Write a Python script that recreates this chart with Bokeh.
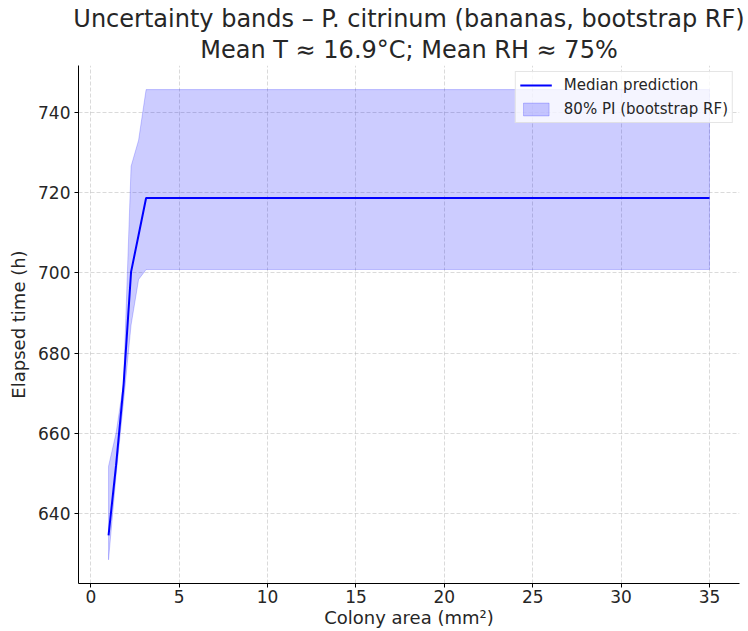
from bokeh.plotting import figure
from bokeh.models import Range1d, Title, Legend, LegendItem, ColumnDataSource
from bokeh.embed import file_html
from bokeh.resources import INLINE

# Colony area grid (mm²) and bootstrap random-forest predictions of elapsed time (h)
area = [1.0, 1.425, 1.85, 2.275, 2.7, 3.125, 35.0]
median = [634.6, 652.0, 672.0, 700.2, 709.4, 718.6, 718.6]
lower = [628.5, 649.5, 668.0, 687.0, 698.3, 700.8, 700.8]
upper = [651.8, 660.0, 672.5, 726.5, 733.0, 745.6, 745.6]

x_ticks = [0, 5, 10, 15, 20, 25, 30, 35]
y_ticks = [640, 660, 680, 700, 720, 740]

FONT = "DejaVu Sans"
TEXT = "#262626"

p = figure(width=748, height=631, output_backend="svg", toolbar_location=None,
           title=None,
           x_range=Range1d(-0.7, 36.7), y_range=Range1d(622.6, 751.6),
           min_border_left=78, min_border_right=9,
           min_border_top=65, min_border_bottom=48)

p.outline_line_color = None
p.background_fill_color = "white"

# two-line title: the later-added Title sits on top
p.add_layout(Title(text="Mean T \u2248 16.9\u00b0C; Mean RH \u2248 75%", align="center",
                   text_font=FONT, text_font_size="24px", text_font_style="normal",
                   text_color=TEXT, standoff=3, offset=0), "above")
p.add_layout(Title(text="Uncertainty bands \u2013 P. citrinum (bananas, bootstrap RF)",
                   align="center", text_font=FONT, text_font_size="24px",
                   text_font_style="normal", text_color=TEXT, standoff=0), "above")

# prediction interval as a closed polygon (upper edge, then lower edge reversed)
band_src = ColumnDataSource(dict(x=area + area[::-1], y=upper + lower[::-1]))
band = p.patch("x", "y", source=band_src, fill_color="#0000ff", fill_alpha=0.2,
               line_color="#0000ff", line_alpha=0.2, line_width=1)

med_src = ColumnDataSource(dict(x=area, y=median))
med = p.line("x", "y", source=med_src, line_color="#0000ff", line_width=2)

for ax in (p.xaxis, p.yaxis):
    ax.major_label_text_font = FONT
    ax.major_label_text_font_size = "17px"
    ax.major_label_text_color = TEXT
    ax.axis_label_text_font = FONT
    ax.axis_label_text_font_size = "18px"
    ax.axis_label_text_font_style = "normal"
    ax.axis_label_text_color = TEXT
    ax.minor_tick_line_color = None
    ax.major_tick_in = 0
    ax.major_tick_out = 4
    ax.axis_line_color = "black"
    ax.major_tick_line_color = "black"

p.xaxis.ticker = x_ticks
p.yaxis.ticker = y_ticks
p.xaxis.axis_label = "Colony area (mm\u00b2)"
p.yaxis.axis_label = "Elapsed time (h)"
p.xaxis.major_label_standoff = 2
p.yaxis.major_label_standoff = 4
p.xaxis.axis_label_standoff = 1
p.yaxis.axis_label_standoff = 6

p.grid.grid_line_color = "#b0b0b0"
p.grid.grid_line_alpha = 0.6
p.grid.grid_line_dash = "4 2"
p.grid.grid_line_width = 0.8

legend = Legend(items=[LegendItem(label="Median prediction", renderers=[med]),
                       LegendItem(label="80% PI (bootstrap RF)", renderers=[band])],
                location="top_right")
legend.label_text_font = FONT
legend.label_text_font_size = "15px"
legend.label_text_color = TEXT
legend.border_line_color = "#cccccc"
legend.background_fill_alpha = 0.8
legend.glyph_width = 32
legend.glyph_height = 16
legend.label_standoff = 12
legend.spacing = 6
legend.padding = 4
legend.margin = 6
p.add_layout(legend)

open("out.html", "w").write(file_html(p, INLINE))
